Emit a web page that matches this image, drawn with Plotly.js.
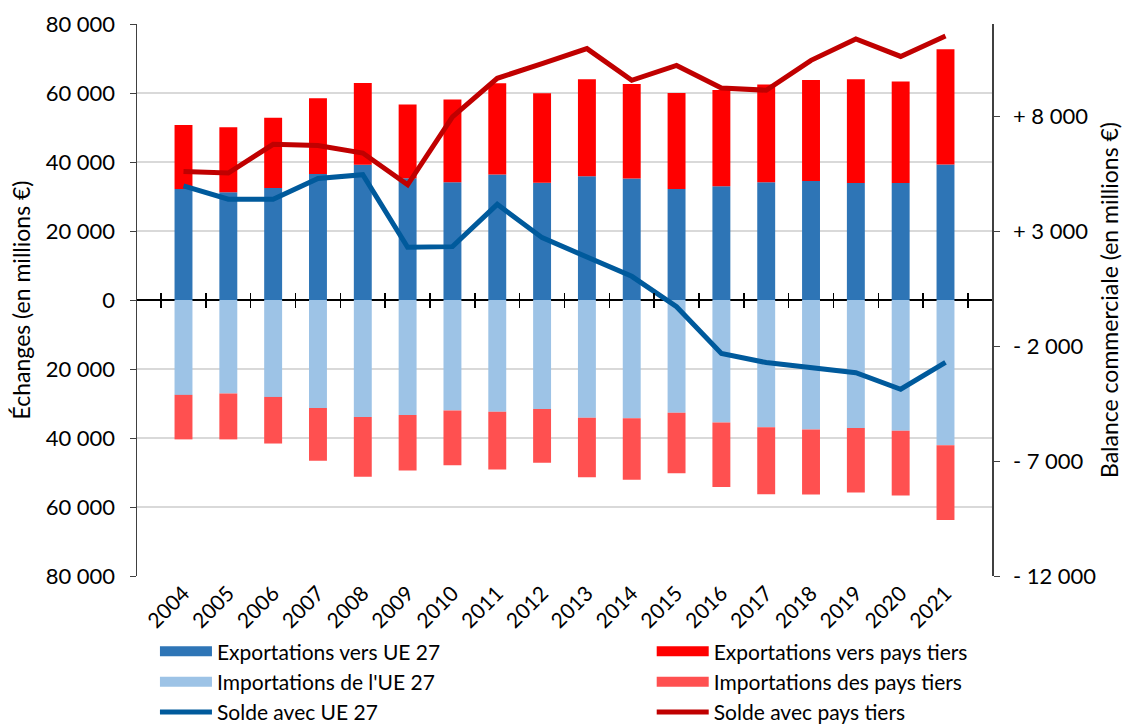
<!DOCTYPE html>
<html>
<head>
<meta charset="utf-8">
<script src="https://cdn.plot.ly/plotly-3.0.1.min.js"></script>
<style>html,body{margin:0;padding:0;background:#fff;}#chart{width:1126px;height:724px;}</style>
</head>
<body>
<div id="chart"></div>
<script>
const years = ["2004","2005","2006","2007","2008","2009","2010","2011","2012","2013","2014","2015","2016","2017","2018","2019","2020","2021"];
// Exports (millions €)
const exportsUE = [32200,31200,32500,36500,39200,35300,34100,36400,34000,35900,35200,32200,33000,34100,34500,33900,33900,39300];
const exportsTiers = [18500,18900,20300,22000,23700,21400,24000,26400,25900,28100,27400,27800,27900,28400,29300,30100,29400,33400];
// Imports (millions €, shown downward)
const importsUE = [27500,27100,28100,31300,33900,33300,32000,32400,31600,34100,34300,32700,35500,36900,37500,37100,37900,42100];
const importsTiers = [12900,13300,13500,15300,17300,16100,15900,16700,15600,17300,17800,17500,18700,19400,18900,18700,18800,21700];
// Balances (millions €)
const soldeUE = [4960,4380,4380,5280,5450,2290,2320,4160,2710,1850,1030,-290,-2320,-2720,-2930,-3160,-3880,-2710];
const soldeTiers = [5590,5520,6770,6720,6390,5010,7960,9640,10280,10930,9550,10200,9220,9120,10420,11350,10590,11480];

const leftTickVals = [-80000,-60000,-40000,-20000,0,20000,40000,60000,80000];
const leftTickText = ["80 000","60 000","40 000","20 000","0","20 000","40 000","60 000","80 000"];
const rightTickVals = [-12000,-7000,-2000,3000,8000];
const rightTickText = ["- 12 000","- 7 000","- 2 000","+ 3 000","+ 8 000"];

const names = ['Exportations vers UE 27','Exportations vers pays tiers',"Importations de l'UE 27",'Importations des pays tiers','Solde avec UE 27','Solde avec pays tiers'];
const colors = ['#2E75B6','#FF0000','#9DC3E6','#FF5050','#005A9C','#C00000'];

const FONT = "Lato, 'Open Sans', sans-serif";
const neg = a => a.map(v => -v);

// legend proxy (wide rectangle symbol like the original legend)
const proxy = (i, lg) => ({type:'scatter', mode:'lines', name:names[i], x:[null], y:[null], legend:lg,
  line:{color:colors[i], width:14}, hoverinfo:'skip'});

const traces = [
  {type:'bar', name:names[0], x:years, y:exportsUE, marker:{color:colors[0]}, showlegend:false},
  {type:'bar', name:names[1], x:years, y:exportsTiers, marker:{color:colors[1]}, showlegend:false},
  {type:'bar', name:names[2], x:years, y:neg(importsUE), marker:{color:colors[2]}, showlegend:false},
  {type:'bar', name:names[3], x:years, y:neg(importsTiers), marker:{color:colors[3]}, showlegend:false},
  proxy(0,'legend'), proxy(2,'legend'),
  proxy(1,'legend2'), proxy(3,'legend2'),
  {type:'scatter', mode:'lines', name:names[4], x:years, y:soldeUE, yaxis:'y2', legend:'legend',
   line:{color:colors[4], width:5}},
  {type:'scatter', mode:'lines', name:names[5], x:years, y:soldeTiers, yaxis:'y2', legend:'legend2',
   line:{color:colors[5], width:5}},
  // invisible helpers to draw the crossing tick marks on the zero line
  {type:'scatter', mode:'markers', x:years, y:years.map(()=>null), xaxis:'x2', showlegend:false, hoverinfo:'skip', marker:{opacity:0}},
  {type:'scatter', mode:'markers', x:years, y:years.map(()=>null), xaxis:'x3', showlegend:false, hoverinfo:'skip', marker:{opacity:0}}
];

const legendBase = {orientation:'v', xanchor:'left', y:-0.1, yanchor:'top', itemwidth:52, tracegroupgap:0,
  font:{family:FONT, size:21, color:'#000'}, traceorder:'normal', bgcolor:'rgba(0,0,0,0)'};

const layout = {
  width:1126, height:724,
  margin:{l:137, r:134, t:24, b:148, autoexpand:false},
  paper_bgcolor:'#fff', plot_bgcolor:'#fff',
  font:{family:FONT, size:22, color:'#000'},
  barmode:'relative',
  bargap:0.6,
  showlegend:true,
  legend:Object.assign({}, legendBase, {x:0.021}),
  legend2:Object.assign({}, legendBase, {x:0.602}),
  xaxis:{type:'category', tickangle:-45, ticks:'', showline:false, showgrid:false, zeroline:false,
         tickfont:{family:FONT, size:21}},
  xaxis2:{type:'category', overlaying:'x', matches:'x', anchor:'free', position:0.5, showline:false,
          ticks:'outside', tickson:'boundaries', ticklen:7, tickwidth:1.5, tickcolor:'#000',
          showticklabels:false, showgrid:false, zeroline:false},
  xaxis3:{type:'category', overlaying:'x', matches:'x', anchor:'free', position:0.5, showline:false,
          ticks:'inside', tickson:'boundaries', ticklen:7, tickwidth:1.5, tickcolor:'#000',
          showticklabels:false, showgrid:false, zeroline:false},
  yaxis:{range:[-80000,80000], tickvals:leftTickVals, ticktext:leftTickText, showgrid:true,
         gridcolor:'#D9D9D9', gridwidth:1.2, zeroline:true, zerolinecolor:'#000', zerolinewidth:2,
         showline:true, linecolor:'#404040', linewidth:1.5, ticks:'outside', ticklen:6, tickcolor:'#404040',
         ticklabelstandoff:10, tickfont:{family:FONT, size:22},
         title:{text:'Échanges (en millions €)', font:{family:FONT, size:23}, standoff:8}},
  yaxis2:{overlaying:'y', side:'right', range:[-12000,12000], tickvals:rightTickVals, ticktext:rightTickText,
          showgrid:false, zeroline:false, showline:true, linecolor:'#404040', linewidth:1.5,
          ticks:'outside', ticklen:6, tickcolor:'#404040', ticklabelstandoff:9, tickfont:{family:FONT, size:22},
          title:{text:'Balance commerciale (en millions €)', font:{family:FONT, size:23}, standoff:6}}
};

Plotly.newPlot('chart', traces, layout, {displayModeBar:false, staticPlot:true});
</script>
</body>
</html>
